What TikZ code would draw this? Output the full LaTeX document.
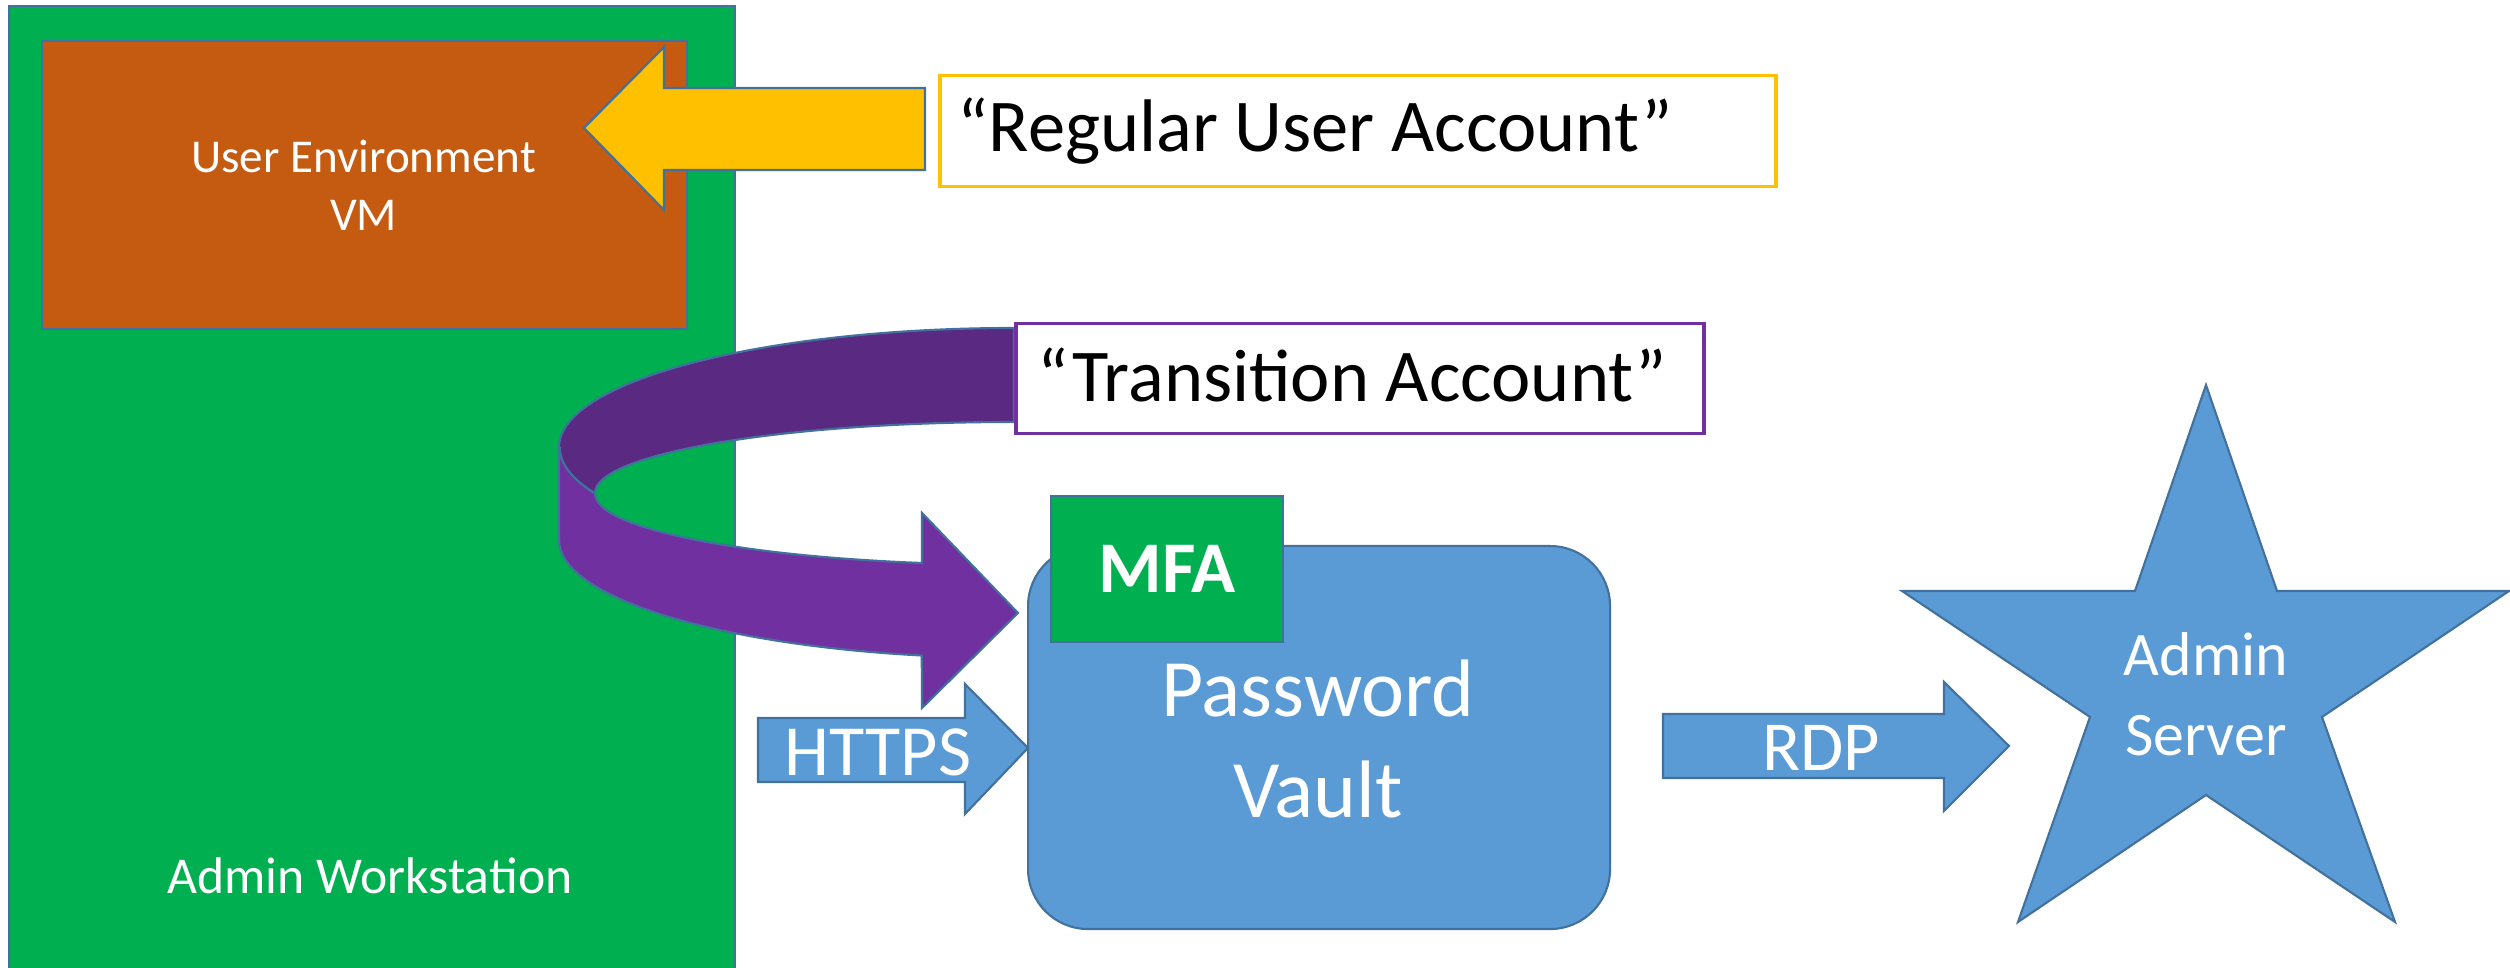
\documentclass[tikz,border=0pt]{standalone}
\usepackage{fontspec}
\setmainfont{Carlito}
\usepackage{tikz}
\definecolor{wsgreen}{HTML}{00B050}
\definecolor{vmorange}{HTML}{C55A11}
\definecolor{acctyellow}{HTML}{FFC000}
\definecolor{acctpurple}{HTML}{7030A0}
\definecolor{acctpurpledark}{HTML}{5A2A82}
\definecolor{vaultblue}{HTML}{5B9BD5}
\definecolor{edgeblue}{HTML}{41719C}

\begin{document}
\begin{tikzpicture}[
  outl/.style={draw=edgeblue, line width=0.6pt},
  wtxt/.style={text=white, align=center, inner sep=0pt},
  btxt/.style={text=black, inner sep=0pt, font=\fontsize{21.2}{25}\selectfont},
  acctbox/.style={fill=white, line width=1pt, anchor=north west, minimum height=1.11cm}]
  \useasboundingbox (0,0) rectangle (25.1,9.68);
  \clip (0,0) rectangle (25.1,9.68);
  \fill[white] (0,0) rectangle (25.1,9.68);
  % workstation and user VM
  \node[outl, fill=wsgreen, anchor=north west, minimum width=7.26cm, minimum height=9.8cm] (ws) at (0.08,9.63) {};
  \node[wtxt, font=\fontsize{14.7}{18}\selectfont] (wstext) at (3.70,0.92) {Admin Workstation};
  \node[outl, fill=vmorange, anchor=north west, minimum width=6.45cm, minimum height=2.88cm] (uevm) at (0.41,9.28) {};
  \node[wtxt, font=\fontsize{13.4}{16.5}\selectfont] (uevmtext) at (3.635,7.825) {User Environment\\VM};
  \filldraw[outl, fill=acctyellow] (9.25,8.80) -- (6.64,8.80) -- (6.64,9.21) -- (5.84,8.40)
    -- (6.64,7.58) -- (6.64,7.98) -- (9.25,7.98) -- cycle;
  \node[acctbox, draw=acctyellow, minimum width=8.36cm] (regbox) at (9.38,8.94) {};
  \node[btxt, anchor=base west] (regtext) at (9.57,8.16) {“Regular User Account”};
  % curved transition arrow
  \filldraw[outl, fill=acctpurpledark]
    (10.14,6.40) arc[start angle=90, end angle=202.7, x radius=4.55, y radius=1.19]
    -- (5.95,4.75) arc[start angle=180, end angle=90, x radius=4.19, y radius=0.71] -- cycle;
  \filldraw[outl, fill=acctpurple]
    (5.59,5.21) -- (5.59,4.28)
    arc[start angle=180, end angle=258.3, x radius=4.55, y radius=1.18]
    -- (9.22,2.60) -- (10.18,3.55) -- (9.22,4.55) -- (9.22,4.05)
    arc[start angle=257.3, end angle=180, x radius=4.19, y radius=0.71]
    arc[start angle=202.7, end angle=180, x radius=4.55, y radius=1.19] -- cycle;
  \node[acctbox, draw=acctpurple, minimum width=6.88cm, minimum height=1.10cm] (transbox) at (10.14,6.46) {};
  \node[btxt, anchor=base west] (transtext) at (10.37,5.66) {“Transition Account”};
  % vault
  \node[outl, fill=vaultblue, rounded corners=0.6cm, anchor=north west, minimum width=5.82cm, minimum height=3.83cm] (vault) at (10.27,4.23) {};
  \node[wtxt, font=\fontsize{23.2}{29}\selectfont] (vaulttext) at (13.18,2.29) {Password\\Vault};
  \node[outl, fill=wsgreen, anchor=north west, minimum width=2.32cm, minimum height=1.46cm] (mfa) at (10.50,4.73) {};
  \node[wtxt, font=\fontsize{20.7}{25}\selectfont\bfseries] (mfatext) at (mfa.center) {MFA};
  \filldraw[outl, fill=vaultblue] (7.58,2.50) -- (9.65,2.50) -- (9.65,2.84) -- (10.28,2.20)
    -- (9.65,1.54) -- (9.65,1.86) -- (7.58,1.86) -- cycle;
  \node[wtxt, font=\fontsize{20.5}{25}\selectfont] (https) at (8.78,2.16) {HTTPS};
  % admin server
  \filldraw[outl, fill=vaultblue] (16.63,2.54) -- (19.44,2.54) -- (19.44,2.86) -- (20.09,2.22)
    -- (19.44,1.57) -- (19.44,1.90) -- (16.63,1.90) -- cycle;
  \node[wtxt, font=\fontsize{20}{25}\selectfont] (rdp) at (18.21,2.20) {RDP};
  \filldraw[outl, fill=vaultblue] (22.06,5.83) -- (22.77,3.77) -- (25.09,3.77) -- (23.22,2.51)
    -- (23.95,0.46) -- (22.06,1.73) -- (20.18,0.46) -- (20.90,2.51) -- (19.02,3.77)
    -- (21.35,3.77) -- cycle;
  \node[wtxt, font=\fontsize{17.6}{22.8}\selectfont] (adminsrv) at (22.06,2.74) {Admin\\Server};
\end{tikzpicture}
\end{document}
